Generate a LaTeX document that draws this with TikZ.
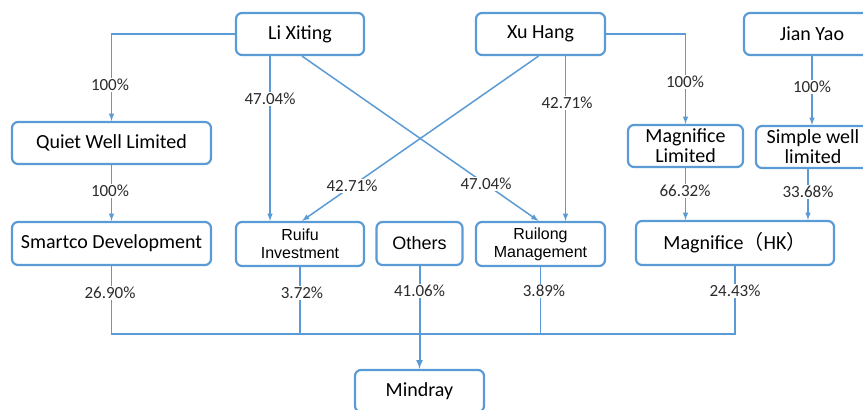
\documentclass[tikz,border=0pt]{standalone}
\usepackage{fontspec}
\setmainfont{Carlito}
\newfontfamily\arialfont{Liberation Sans}
\newfontfamily\cjk{Noto Sans CJK SC}
\usepackage{tikz}
\usetikzlibrary{arrows,shapes}
\definecolor{lineblue}{HTML}{5B9BD5}
\definecolor{pctgray}{HTML}{2B2B2B}

\begin{document}
\begin{tikzpicture}[x=1pt, y=-1pt, >=latex,
		box/.style={draw=lineblue, line width=2.2pt, rounded corners=6pt, fill=white, align=center, inner sep=0pt, font=\fontsize{20}{20}\selectfont},
		link/.style={draw=lineblue, line width=1.5pt, ->},
		pct/.style={fill=white, text=pctgray, inner sep=1.5pt, font=\fontsize{17}{17}\selectfont}]
		\useasboundingbox (0,0) rectangle (863,410);
		% shareholders
		\node[box, minimum width=128, minimum height=42] (li) at (300,34) {Li Xiting};
		\node[box, minimum width=129, minimum height=42] (xu) at (540.5,34) {Xu Hang};
		\node[box, minimum width=136, minimum height=42] (jy) at (812,34) {Jian Yao};
		% holding companies
		\node[box, minimum width=199, minimum height=42] (qw) at (111.5,143) {Quiet Well Limited};
		\node[box, minimum width=115, minimum height=42] (ml) at (685.5,146) {Magnifice\\Limited};
		\node[box, minimum width=114, minimum height=42] (sw) at (813,147) {Simple well\\limited};
		% direct holders
		\node[box, minimum width=199, minimum height=43] (sd) at (111.5,243.5) {Smartco Development};
		\node[box, minimum width=128, minimum height=44, font=\arialfont\fontsize{16}{18}\selectfont] (rf) at (300,244) {Ruifu\\Investment};
		\node[box, minimum width=86, minimum height=43, font=\arialfont\fontsize{18}{18}\selectfont] (ot) at (419.5,243.5) {Others};
		\node[box, minimum width=129, minimum height=44, font=\arialfont\fontsize{16}{18}\selectfont] (rl) at (540.5,244) {Ruilong\\Management};
		\node[box, minimum width=198, minimum height=44] (hk) at (735,243) {Magnifice{\cjk （}HK{\cjk ）}};
		% company
		\node[box, minimum width=129, minimum height=42] (md) at (419.5,391) {Mindray};
		\coordinate (bus) at (0,334);

		% links
		\draw[link] (li.west) -| (qw.north);
		\draw[link] (qw.south) -- (sd.north);
		\draw[link] ([xshift=-30pt]li.south) -- ([xshift=-30pt]rf.north);
		\draw[link] ([xshift=2pt]li.south) -- ([xshift=-2pt]rl.north);
		\draw[link] ([xshift=-2pt]xu.south) -- ([xshift=2pt]rf.north);
		\draw[link] ([xshift=25pt]xu.south) -- ([xshift=25pt]rl.north);
		\draw[link] (xu.east) -| (ml.north);
		\draw[link] (jy.south) -- (jy.south |- sw.north);
		\draw[link] (ml.south) -- (ml.south |- hk.north);
		\draw[link] ([xshift=-5pt]sw.south) -- ([xshift=-5pt]sw.south |- hk.north);
		% into Mindray
		\draw[draw=lineblue, line width=1.5pt] (sd.south) |- (hk.south |- bus) -- (hk.south);
		\draw[draw=lineblue, line width=1.5pt] (rf.south) -- (rf.south |- bus);
		\draw[draw=lineblue, line width=1.5pt] (rl.south) -- (rl.south |- bus);
		\draw[link, line width=2pt] (ot.south) -- (md.north);

		% percentages
		\node[pct] (p1) at (110,85) {100\%};
		\node[pct] (p2) at (110,191) {100\%};
		\node[pct] (p3) at (270,99) {47.04\%};
		\node[pct] (p4) at (352,186) {42.71\%};
		\node[pct] (p5) at (486,184) {47.04\%};
		\node[pct] (p6) at (567,103) {42.71\%};
		\node[pct] (p7) at (685,82) {100\%};
		\node[pct] (p8) at (812,87) {100\%};
		\node[pct] (p9) at (685,191) {66.32\%};
		\node[pct] (p10) at (808,192) {33.68\%};
		\node[pct] (p11) at (110,293) {26.90\%};
		\node[pct] (p12) at (302,293) {3.72\%};
		\node[pct] (p13) at (419.5,291) {41.06\%};
		\node[pct] (p14) at (544,291) {3.89\%};
		\node[pct] (p15) at (735,291) {24.43\%};
	\end{tikzpicture}
\end{document}
